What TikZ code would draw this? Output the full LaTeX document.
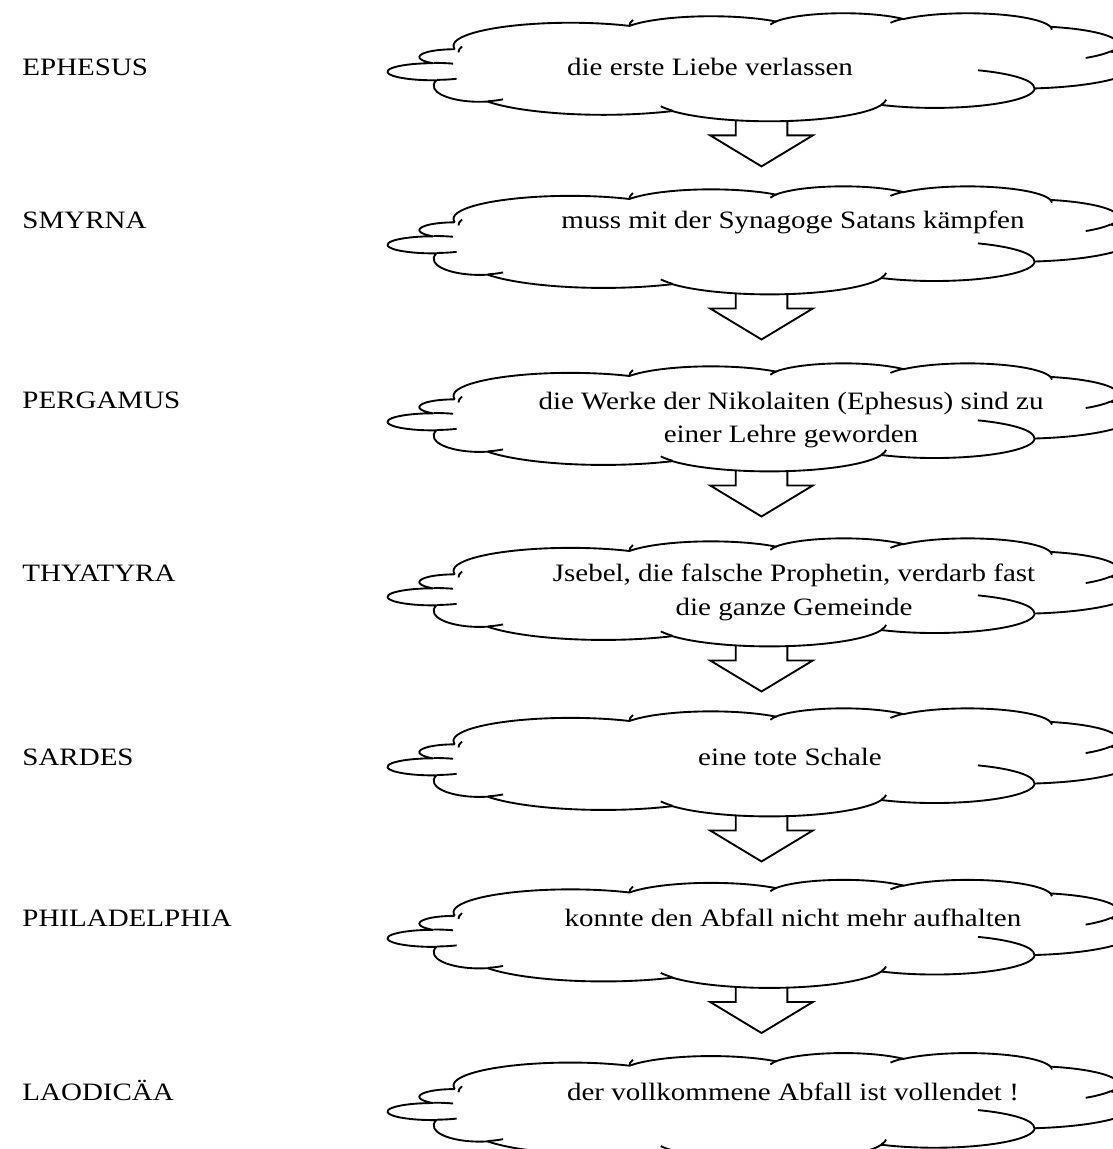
\documentclass[tikz,border=0pt]{standalone}
\usepackage{fontspec}
\setmainfont[FakeStretch=1.16]{Liberation Serif}
\usepackage{tikz}
\usetikzlibrary{calc,backgrounds}

\tikzset{
  wolkenrand/.style={draw=black, line width=0.9pt, fill=white, line join=round},
  wolkeninnen/.style={draw=black, line width=0.9pt},
  wolkentext/.style={anchor=base, align=center, inner sep=0pt, font=\fontsize{12}{16.3}\selectfont},
  gemeinde/.style={anchor=base west, inner sep=0pt, font=\fontsize{12}{16.3}\selectfont},
  blockpfeil/.style={draw=black, line width=0.9pt, fill=white, line join=miter},
}
% angles of the lobes are given as seen from the centre
\pgfkeys{/pgf/foreach/sichtwinkel/.style={
  evaluate=\st as \ta using {atan2(\rx*sin(\st),\ry*cos(\st))},
  evaluate=\st as \tb using {atan2(\rx*sin(\st+\sw),\ry*cos(\st+\sw))},
  evaluate=\st as \dt using {mod(\tb-\ta+720,360)}}}

% cloud outline, #1 = name, #2 = top edge
\newcommand\wolke[2]{%
  \begin{scope}[shift={(387,#2)}, x=8.311pt, y=-1.2pt]
    \draw[wolkenrand] (3.9,14.37)
      \foreach \rx/\ry/\st/\sw [sichtwinkel]
      in {6.753/9.190/-190.48748/123.78053, 5.333/7.267/-144.10238/89.94523,
          4.365/5.945/-145.80792/99.72302, 4.857/6.595/-130.98607/117.24173,
          5.333/7.273/-78.70888/109.02692, 6.775/9.220/-46.26725/130.269,
          5.785/7.867/0.62502/114.03333, 6.752/9.215/22.4516/115.17255,
          7.720/10.543/66.24263/75.71102}
      { arc[start angle=\ta, delta angle=\dt, x radius=\rx, y radius=\ry] }
      arc[start angle=80, delta angle=120, x radius=2.651, y radius=6.428] % lower left
      arc[start angle=85.9, delta angle=184.1, x radius=2.64, y radius=3.41] % left tip
      arc[start angle=126.9, delta angle=143.1, x radius=2.0, y radius=3.1] -- cycle;
    \draw[wolkeninnen]
      \foreach \px/\py/\rx/\ry/\st/\sw [sichtwinkel]
      in {16.478/39.090/6.752/9.215/137.62415/14.0811, 28.827/34.751/6.752/9.215/6.45327/15.99835,
          34.129/22.954/5.785/7.867/-70.29235/70.91737, 41.798/15.354/5.333/7.273/30.31803/27.7515,
          38.324/5.426/4.857/6.595/-13.74433/14.8589, 29.078/3.952/4.857/6.595/-149.18145/18.19537,
          22.141/4.720/4.365/5.945/-163.49427/17.68635, 14.000/5.192/6.753/9.190/-181.01605/20,
          4.127/15.789/6.753/9.190/-181.01605/20}
      { (\px,\py) arc[start angle=\ta, delta angle=\dt, x radius=\rx, y radius=\ry] }
      (6.706,34.567) arc[start angle=60, delta angle=20, x radius=2.651, y radius=6.428]
      (4.02,26.35) arc[start angle=60, delta angle=25.9, x radius=2.64, y radius=3.41]
      (2.7,19.99) arc[start angle=270, delta angle=25, x radius=2.64, y radius=3.41];
  \end{scope}
  \coordinate (#1-unten) at (761.5,#2+97.5);%
}

\begin{document}
\begin{tikzpicture}[x=0.48pt, y=-0.48pt]
\useasboundingbox (0,0) rectangle (1112,1149);

% clouds
\foreach \g/\t in {ephesus/12.9, smyrna/186, pergamus/363, thyatyra/538,
                   sardes/708, philadelphia/879.5, laodicaea/1052.7}
  {\wolke{\g}{\t}}

% cloud texts
\node[wolkentext] (ephesus) at (710,76) {die erste Liebe verlassen};
\node[wolkentext] (smyrna) at (793,229) {muss mit der Synagoge Satans kämpfen};
\node[wolkentext] (pergamus) at (791,443) {die Werke der Nikolaiten (Ephesus) sind zu\\einer Lehre geworden};
\node[wolkentext] (thyatyra) at (794,615) {Jsebel, die falsche Prophetin, verdarb fast\\die ganze Gemeinde};
\node[wolkentext] (sardes) at (790,765) {eine tote Schale};
\node[wolkentext] (philadelphia) at (793,926) {konnte den Abfall nicht mehr aufhalten};
\node[wolkentext] (laodicaea) at (793,1100) {der vollkommene Abfall ist vollendet !};

% church names
\node[gemeinde] (n-ephesus) at (22,76) {EPHESUS};
\node[gemeinde] (n-smyrna) at (22,229) {SMYRNA};
\node[gemeinde] (n-pergamus) at (22,409) {PERGAMUS};
\node[gemeinde] (n-thyatyra) at (22,581) {THYATYRA};
\node[gemeinde] (n-sardes) at (22,765) {SARDES};
\node[gemeinde] (n-philadelphia) at (22,926) {PHILADELPHIA};
\node[gemeinde] (n-laodicaea) at (22,1100) {LAODICÄA};

% block arrows, top end hidden under the cloud
\begin{scope}[on background layer]
\foreach \g in {ephesus,smyrna,pergamus,thyatyra,sardes,philadelphia}
  \draw[blockpfeil] ($(\g-unten)+(-25.8,-20)$) -- ($(\g-unten)+(-25.8,25)$)
    -- ($(\g-unten)+(-51.3,25)$) -- ($(\g-unten)+(0,56)$) -- ($(\g-unten)+(51.3,25)$)
    -- ($(\g-unten)+(25.8,25)$) -- ($(\g-unten)+(25.8,-20)$);
\end{scope}
\end{tikzpicture}
\end{document}
